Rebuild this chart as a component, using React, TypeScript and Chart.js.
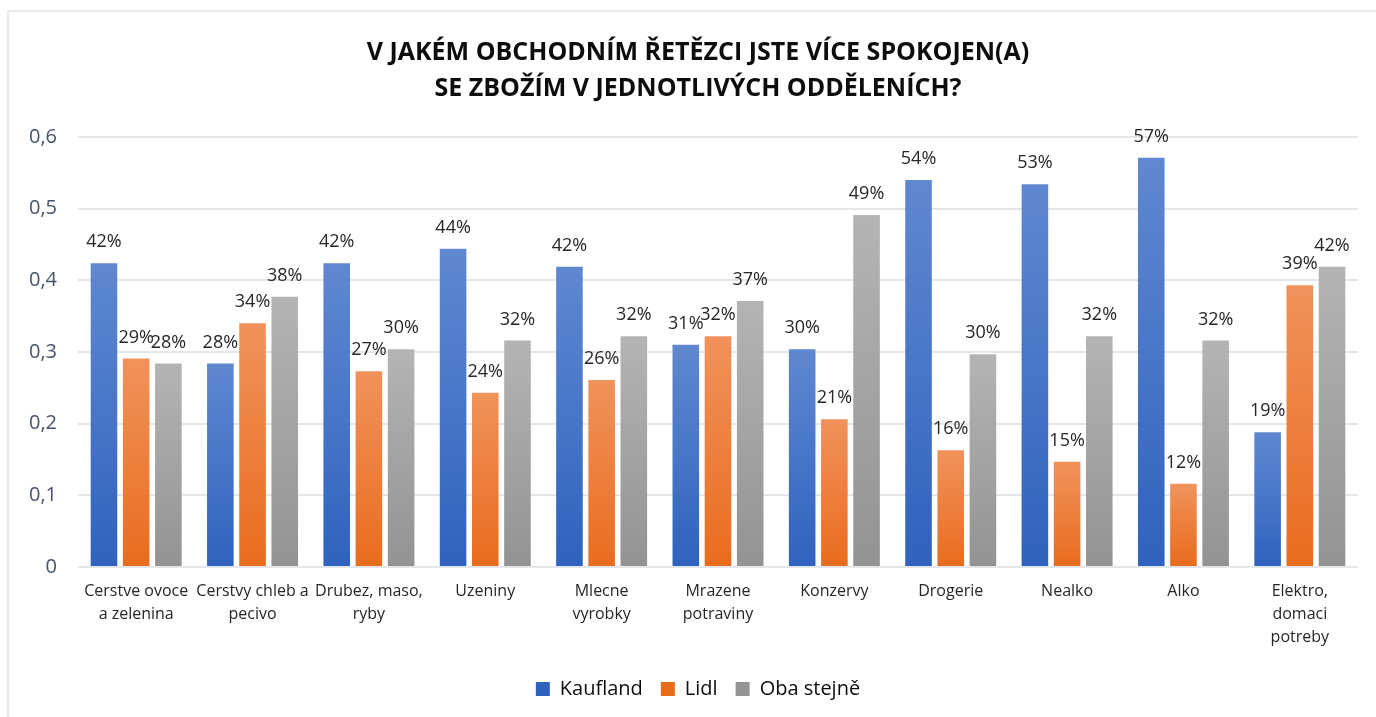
import React, { useEffect, useRef } from "react";
import { Chart, registerables } from "chart.js";

Chart.register(...registerables);

const categories: string[][] = [
  ["Cerstve ovoce", "a zelenina"],
  ["Cerstvy chleb a", "pecivo"],
  ["Drubez, maso,", "ryby"],
  ["Uzeniny"],
  ["Mlecne", "vyrobky"],
  ["Mrazene", "potraviny"],
  ["Konzervy"],
  ["Drogerie"],
  ["Nealko"],
  ["Alko"],
  ["Elektro,", "domaci", "potreby"],
];

const kaufland = [0.424, 0.284, 0.424, 0.444, 0.419, 0.31, 0.304, 0.54, 0.534, 0.571, 0.188];
const lidl = [0.291, 0.34, 0.273, 0.243, 0.261, 0.322, 0.206, 0.163, 0.147, 0.116, 0.393];
const oba = [0.284, 0.377, 0.304, 0.316, 0.322, 0.371, 0.491, 0.297, 0.322, 0.316, 0.419];

const seriesNames = ["Kaufland", "Lidl", "Oba stejně"];
const titleLines = ["V JAKÉM OBCHODNÍM ŘETĚZCI JSTE VÍCE SPOKOJEN(A)", "SE ZBOŽÍM V JEDNOTLIVÝCH ODDĚLENÍCH?"];
const yTicks = [0, 0.1, 0.2, 0.3, 0.4, 0.5, 0.6];

const gradients: [string, string, string][] = [
  ["#6088d0", "#2f62be", "#4472c4"],
  ["#f1925c", "#e96c1d", "#ed7d31"],
  ["#b4b4b4", "#939393", "#a5a5a5"],
];

function barColor(idx: number) {
  return (ctx: any) => {
    const [top, bottom, solid] = gradients[idx];
    if (ctx.type !== "data") return solid;
    const chart = ctx.chart;
    const y = chart.scales?.y;
    if (!y || !chart.chartArea) return solid;
    const v = ctx.raw as number;
    const yTop = y.getPixelForValue(v);
    const yBot = y.getPixelForValue(0);
    if (!isFinite(yTop) || !isFinite(yBot) || yBot - yTop < 1) return solid;
    const g = chart.ctx.createLinearGradient(0, yTop, 0, yBot);
    g.addColorStop(0, top);
    g.addColorStop(1, bottom);
    return g;
  };
}

const dataLabelPlugin = {
  id: "pctLabels",
  afterDatasetsDraw(chart: any) {
    const c = chart.ctx;
    c.save();
    c.font = "18px 'Open Sans'";
    c.fillStyle = "#262626";
    c.textAlign = "center";
    c.textBaseline = "middle";
    chart.data.datasets.forEach((ds: any, i: number) => {
      const meta = chart.getDatasetMeta(i);
      meta.data.forEach((el: any, j: number) => {
        const v = ds.data[j] as number;
        c.fillText(Math.round(v * 100) + "%", el.x, el.y - 21);
      });
    });
    c.restore();
  },
};

// shift title and legend so they are centred like the reference
const centerShiftPlugin = {
  id: "centerShift",
  afterLayout(chart: any) {
    if (chart.titleBlock) chart.titleBlock.left += 38;
    if (chart.legend) chart.legend.left += 38;
  },
};

export default function App() {
  const ref = useRef<HTMLCanvasElement | null>(null);
  useEffect(() => {
    if (!ref.current) return;
    const chart = new Chart(ref.current, {
      type: "bar",
      data: {
        labels: categories,
        datasets: [kaufland, lidl, oba].map((d, i) => ({
          label: seriesNames[i],
          data: d,
          backgroundColor: barColor(i),
          borderWidth: 0,
          categoryPercentage: 0.83,
          barPercentage: 0.826,
        })),
      },
      options: {
        animation: false,
        responsive: false,
        maintainAspectRatio: false,
        layout: { padding: { left: 0, right: 18, top: 0, bottom: 8 } },
        plugins: {
          title: {
            display: true,
            text: titleLines,
            color: "#0d0d0d",
            font: { family: "'Open Sans'", size: 25, weight: "bold", lineHeight: 36 / 25 },
            padding: { top: 35, bottom: 30 },
          },
          legend: {
            position: "bottom",
            labels: {
              boxWidth: 14,
              boxHeight: 14,
              padding: 18,
              color: "#0d0d0d",
              font: { family: "'Open Sans'", size: 20 },
            },
          },
          tooltip: { enabled: false },
        },
        scales: {
          x: {
            grid: { display: false, drawTicks: false },
            border: { display: false },
            ticks: {
              autoSkip: false,
              maxRotation: 0,
              minRotation: 0,
              padding: 13,
              color: "#262626",
              font: { family: "'Open Sans'", size: 16, lineHeight: 23 / 16 },
            },
            afterFit: (s: any) => {
              s.height = 94;
            },
          },
          y: {
            min: 0,
            max: 0.6,
            afterBuildTicks: (s: any) => {
              s.ticks = yTicks.map((v) => ({ value: v }));
            },
            grid: { color: "#e3e6ea", lineWidth: 2, drawTicks: false },
            border: { display: false },
            ticks: {
              padding: 21,
              color: "#44546a",
              font: { family: "'Open Sans'", size: 20 },
              callback: (v: any) => (v === 0 ? "0" : Number(v).toFixed(1).replace(".", ",")),
            },
            afterFit: (s: any) => {
              s.width = 78;
            },
          },
        },
      },
      plugins: [dataLabelPlugin, centerShiftPlugin],
    } as any);
    return () => chart.destroy();
  }, []);

  return (
    <div style={{ position: "fixed", left: 0, top: 0, width: 1376, height: 717, overflow: "hidden", background: "#fff" }}>
      <div
        style={{
          position: "absolute",
          left: 7,
          top: 10,
          width: 1400,
          height: 800,
          border: "2px solid #e6e9ed",
          boxSizing: "border-box",
        }}
      />
      <canvas ref={ref} width={1376} height={717} style={{ position: "absolute", left: 0, top: 0, width: 1376, height: 717 }} />
    </div>
  );
}
